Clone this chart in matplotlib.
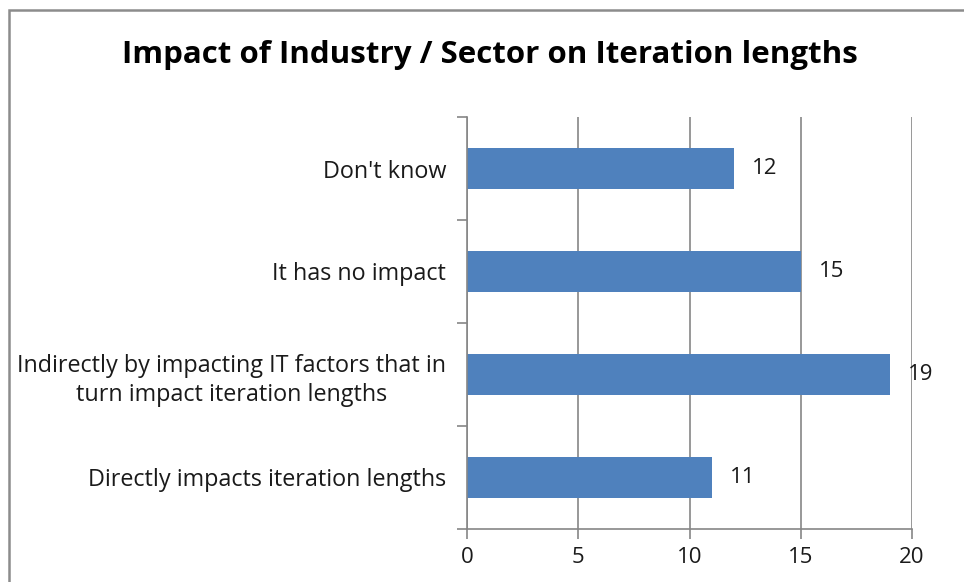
import matplotlib
matplotlib.use('Agg')
import matplotlib.pyplot as plt
from matplotlib.patches import Rectangle
import numpy as np

plt.rcParams['font.family'] = ['Open Sans', 'DejaVu Sans']

categories = ['Directly impacts iteration lengths',
              'Indirectly by impacting IT factors that in\nturn impact iteration lengths',
              'It has no impact',
              "Don't know"]
counts = [11, 19, 15, 12]

fig = plt.figure(figsize=(9.64, 5.82), dpi=100)
fig.patch.set_facecolor('white')

# chart frame (runs off the right and bottom edges)
fig.patches.append(Rectangle((9 / 964, -0.05), 1.2, 1 - 10 / 582 + 0.05,
                             transform=fig.transFigure, fill=False,
                             edgecolor='#8c8c8c', linewidth=1.8, zorder=0))

ax = fig.add_axes([467 / 964, 1 - 529 / 582, 445 / 964, 412 / 582])
y = np.arange(len(categories))
ax.barh(y, counts, height=0.4, color='#4F81BD', zorder=2)

for yi, v in zip(y, counts):
    ax.text(v + 0.8, yi, str(v), va='center', ha='left', fontsize=16, color='#1a1a1a')

ax.set_xlim(0, 20)
ax.set_ylim(-0.5, len(categories) - 0.5)
ax.set_xticks([0, 5, 10, 15, 20])
ax.set_yticks(y)
ax.set_yticklabels(categories, fontsize=16.8, multialignment='center', color='#1a1a1a',
                   linespacing=1.3)
ax.set_yticks(np.arange(-0.5, len(categories)), minor=True)

ax.tick_params(axis='y', which='major', length=0, pad=15)
ax.tick_params(axis='y', which='minor', length=7, color='#868686', width=1.2, direction='out')
ax.tick_params(axis='x', length=7, color='#868686', width=1.2, direction='out',
               labelsize=16, pad=6, labelcolor='#1a1a1a')

ax.grid(axis='x', color='#868686', linewidth=1.2, zorder=0)
for side in ['top', 'right']:
    ax.spines[side].set_visible(False)
for side in ['left', 'bottom']:
    ax.spines[side].set_color('#868686')
    ax.spines[side].set_linewidth(1.2)

fig.text(490 / 964, 1 - 55 / 582, 'Impact of Industry / Sector on Iteration lengths',
         ha='center', va='center', fontsize=22.5, fontweight='bold', color='black')

fig.savefig('out.png', dpi=100, facecolor='white')
